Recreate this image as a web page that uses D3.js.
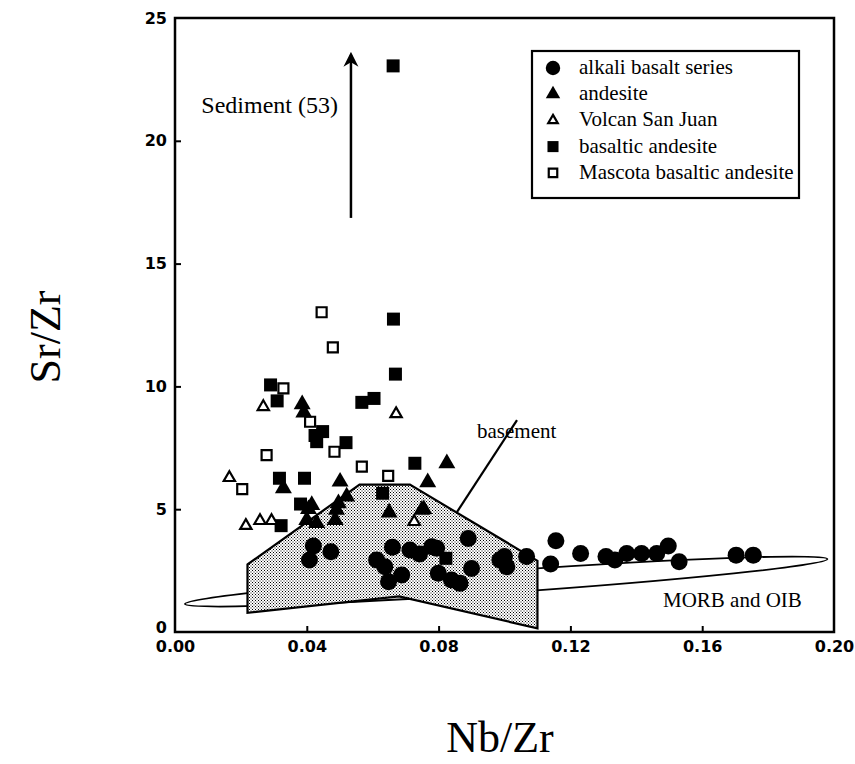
<!DOCTYPE html>
<html><head><meta charset="utf-8">
<script src="https://cdn.jsdelivr.net/npm/d3@7"></script>
<style>html,body{margin:0;padding:0;background:#fff}</style>
</head><body>
<svg id="chart" width="855" height="764"></svg>
<script>
// ---- data ----
const xTicks = [0.00, 0.04, 0.08, 0.12, 0.16, 0.20];
const yTicks = [0, 5, 10, 15, 20, 25];
const seriesNames = ["alkali basalt series", "andesite", "Volcan San Juan", "basaltic andesite", "Mascota basaltic andesite"];

const alkaliBasalt = [[0.042,3.5],[0.0408,2.93],[0.0473,3.27],[0.0612,2.93],[0.066,3.45],[0.0637,2.66],[0.0648,2.05],[0.0688,2.32],[0.0713,3.34],[0.0742,3.18],[0.0779,3.47],[0.0794,3.41],[0.0799,2.39],[0.0839,2.12],[0.0865,1.98],[0.089,3.81],[0.09,2.59],[0.0986,2.93],[0.1,3.07],[0.1007,2.66],[0.1067,3.07],[0.1156,3.72],[0.114,2.77],[0.1231,3.2],[0.1308,3.07],[0.1335,2.93],[0.1371,3.2],[0.1416,3.2],[0.1462,3.2],[0.1497,3.5],[0.153,2.86],[0.1703,3.13],[0.1755,3.13]];
const andesite = [[0.0386,9.27],[0.0391,8.93],[0.0825,6.87],[0.0767,6.09],[0.0329,5.85],[0.0501,6.12],[0.0521,5.51],[0.0496,5.24],[0.0415,5.17],[0.0405,5.0],[0.04,4.56],[0.043,4.43],[0.049,4.97],[0.0486,4.56],[0.065,4.86],[0.0749,4.97],[0.0755,5.0]];
const volcanSanJuan = [[0.0268,9.17],[0.0671,8.88],[0.0165,6.28],[0.0215,4.33],[0.0258,4.53],[0.0293,4.53],[0.0726,4.49]];
const basalticAndesite = [[0.0662,23.05],[0.0663,12.74],[0.0669,10.5],[0.029,10.06],[0.031,9.41],[0.0567,9.35],[0.0604,9.51],[0.0448,8.16],[0.0425,8.0],[0.043,7.75],[0.0519,7.71],[0.0728,6.87],[0.0317,6.26],[0.0393,6.26],[0.063,5.65],[0.0381,5.21],[0.0322,4.33],[0.0822,3.0]];
const mascota = [[0.0445,13.02],[0.0479,11.59],[0.0329,9.92],[0.041,8.56],[0.0484,7.34],[0.0278,7.2],[0.0567,6.73],[0.0647,6.36],[0.0204,5.82]];

const basementPoly = [[0.022,2.75],[0.056,6.0],[0.0713,6.0],[0.11,2.9],[0.11,0.15],[0.068,1.45],[0.022,0.78]];
const morbTips = [[0.003,1.14],[0.198,2.97]];
const sedimentArrow = [[0.0534,16.86],[0.0534,23.5]];
const basementLeader = [[0.0856,4.89],[0.1038,8.63]];

// ---- layout ----
const svg = d3.select("#chart");
const x = d3.scaleLinear().domain([0, 0.2]).range([175, 834]);
const y = d3.scaleLinear().domain([0, 25]).range([632, 18]);
const serif = "'Liberation Serif','Times New Roman',serif";
const sans = "'DejaVu Sans',sans-serif";

const defs = svg.append("defs");
const pat = defs.append("pattern").attr("id","stip").attr("width",3).attr("height",3).attr("patternUnits","userSpaceOnUse");
pat.append("rect").attr("width",3).attr("height",3).attr("fill","#fff");
pat.append("rect").attr("x",0).attr("y",0).attr("width",1).attr("height",1).attr("fill","#000");
pat.append("rect").attr("x",1.5).attr("y",1.5).attr("width",1).attr("height",1).attr("fill","#000");
defs.append("marker").attr("id","arrow").attr("viewBox","0 0 10 10").attr("refX",8).attr("refY",5)
  .attr("markerWidth",6).attr("markerHeight",7).attr("markerUnits","strokeWidth").attr("orient","auto")
  .append("path").attr("d","M0,0 L10,5 L0,10 L3,5 Z").attr("fill","#000");

// MORB & OIB ellipse
{
  const x1 = x(morbTips[0][0]), y1 = y(morbTips[0][1]), x2 = x(morbTips[1][0]), y2 = y(morbTips[1][1]);
  const cx = (x1+x2)/2, cy = (y1+y2)/2;
  const a = Math.hypot(x2-x1, y2-y1)/2;
  const ang = Math.atan2(y2-y1, x2-x1)*180/Math.PI;
  svg.append("ellipse").attr("cx",0).attr("cy",0).attr("rx",a).attr("ry",11)
    .attr("transform",`translate(${cx},${cy}) rotate(${ang})`)
    .attr("fill","#fff").attr("stroke","#000").attr("stroke-width",1.8);
}
// basement polygon
svg.append("path").attr("d", d3.line().x(d=>x(d[0])).y(d=>y(d[1]))(basementPoly) + "Z")
  .attr("fill","url(#stip)").attr("stroke","#000").attr("stroke-width",2.2).attr("stroke-linejoin","miter");

// leader line for basement
svg.append("line").attr("x1",x(basementLeader[0][0])).attr("y1",y(basementLeader[0][1]))
  .attr("x2",x(basementLeader[1][0])).attr("y2",y(basementLeader[1][1]))
  .attr("stroke","#000").attr("stroke-width",2.2);

// sediment arrow
svg.append("line").attr("x1",x(sedimentArrow[0][0])).attr("y1",y(sedimentArrow[0][1]))
  .attr("x2",x(sedimentArrow[1][0])).attr("y2",y(sedimentArrow[1][1]))
  .attr("stroke","#000").attr("stroke-width",2.5).attr("marker-end","url(#arrow)");

// axes
const xAxis = d3.axisBottom(x).tickValues(xTicks).tickFormat(d3.format(".2f")).tickSizeInner(-6).tickSizeOuter(0).tickPadding(9);
const gx = svg.append("g").attr("transform","translate(0,632)").call(xAxis);
const yAxis = d3.axisLeft(y).tickValues(yTicks).tickFormat(d3.format("d")).tickSizeInner(-6).tickSizeOuter(0).tickPadding(8);
const gy = svg.append("g").attr("transform","translate(175,0)").call(yAxis);
[gx, gy].forEach(g => {
  g.select(".domain").remove();
  g.selectAll(".tick line").attr("stroke","#000").attr("stroke-width",2);
  g.selectAll(".tick text").attr("font-family",sans).attr("font-weight","bold").attr("font-size",16).attr("fill","#000");
});
gx.selectAll(".tick").filter(d => d === 0 || d === 0.2).select("line").remove();
gy.selectAll(".tick").filter(d => d === 0 || d === 25).select("line").remove();
gy.selectAll(".tick").filter(d => d === 0).select("text").attr("dy","0.0em");

// frame
svg.append("rect").attr("x",x(0)).attr("y",y(25)).attr("width",x(0.2)-x(0)).attr("height",y(0)-y(25))
  .attr("fill","none").attr("stroke","#000").attr("stroke-width",2.5);

// axis titles
svg.append("text").attr("transform","translate(60,337) rotate(-90)").attr("text-anchor","middle")
  .attr("font-family",serif).attr("font-size",44).text("Sr/Zr");
svg.append("text").attr("x",500).attr("y",752).attr("text-anchor","middle")
  .attr("font-family",serif).attr("font-size",44).text("Nb/Zr");

// annotations
svg.append("text").attr("x",338).attr("y",113).attr("text-anchor","end").attr("font-family",serif).attr("font-size",24).text("Sediment (53)");
svg.append("text").attr("x",477).attr("y",438).attr("font-family",serif).attr("font-size",21).text("basement");
svg.append("text").attr("x",663).attr("y",607).attr("font-family",serif).attr("font-size",21).text("MORB and OIB");

// markers
const sym = (type, size) => d3.symbol().type(type).size(size)();
function drawSeries(data, kind) {
  const g = svg.append("g");
  const sel = g.selectAll("path").data(data).join("path")
    .attr("transform", d => `translate(${x(d[0])},${y(d[1])})`);
  styleMarker(sel, kind, false);
}
function styleMarker(sel, kind, legend) {
  const k = legend ? 0.85 : 1;
  if (kind === 0) sel.attr("d", sym(d3.symbolCircle, Math.PI*8.5*8.5*k*k)).attr("fill","#000");
  if (kind === 1) sel.attr("d", sym(d3.symbolTriangle, 125*k*k)).attr("fill","#000");
  if (kind === 2) sel.attr("d", sym(d3.symbolTriangle, 55*k*k)).attr("fill","#fff").attr("stroke","#000").attr("stroke-width",2.2);
  if (kind === 3) sel.attr("d", sym(d3.symbolSquare, 169*k*k)).attr("fill","#000");
  if (kind === 4) sel.attr("d", sym(d3.symbolSquare, 100*k*k)).attr("fill","#fff").attr("stroke","#000").attr("stroke-width",2.2);
}
drawSeries(mascota, 4);
drawSeries(basalticAndesite, 3);
drawSeries(volcanSanJuan, 2);
drawSeries(andesite, 1);
drawSeries(alkaliBasalt, 0);

// legend
const lg = svg.append("g");
lg.append("rect").attr("x",532).attr("y",51).attr("width",267).attr("height",147).attr("fill","#fff").attr("stroke","#000").attr("stroke-width",2.2);
seriesNames.forEach((name, i) => {
  const cy = 68 + i*26.2;
  const p = lg.append("path").attr("transform",`translate(553,${cy})`);
  styleMarker(p, i, true);
  lg.append("text").attr("x",579).attr("y",cy+6).attr("font-family",serif).attr("font-size",21).text(name);
});
</script>
</body></html>
